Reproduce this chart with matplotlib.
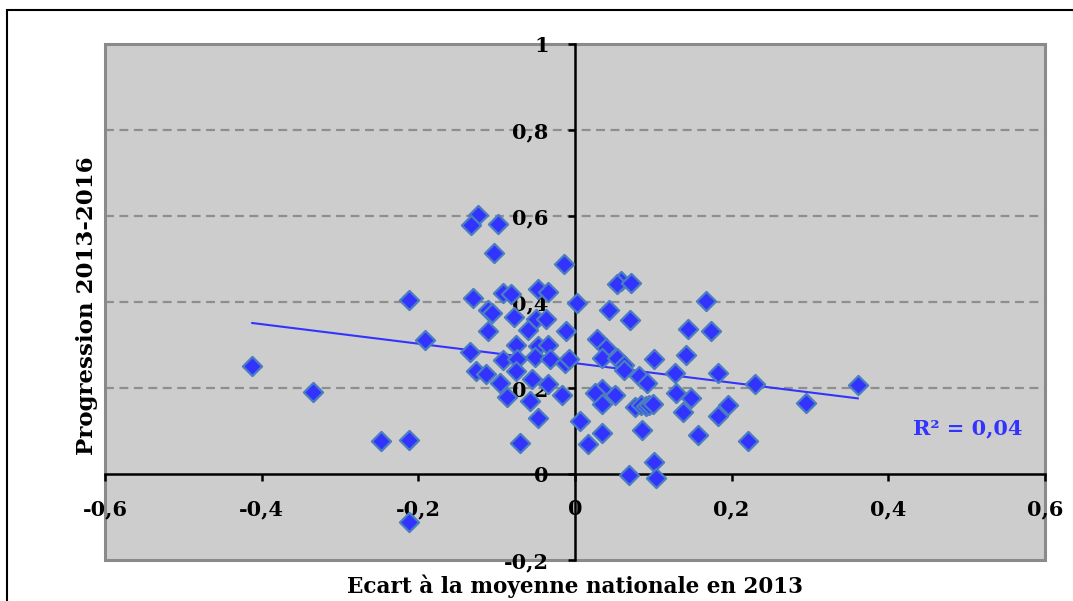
import matplotlib
matplotlib.use("Agg")
import matplotlib.pyplot as plt
from matplotlib.patches import Rectangle
import numpy as np

# Ecart à la moyenne nationale en 2013 / Progression 2013-2016
ecart_2013 = [
    -0.412, -0.335, -0.248, -0.212, -0.212, -0.212, -0.191, -0.124, -0.133, -0.098,
    -0.103, -0.014, -0.130, -0.092, -0.082, -0.047, -0.034, 0.002, -0.111, -0.106,
    -0.078, -0.050, -0.037, -0.111, -0.060, -0.012, -0.134, -0.075, -0.047, -0.035,
    -0.092, -0.074, -0.051, -0.032, -0.013, -0.008, -0.126, -0.113, -0.075, -0.055,
    -0.034, -0.096, -0.087, -0.058, -0.016, -0.047, -0.070, 0.006, 0.059, 0.053,
    0.072, 0.044, 0.070, 0.028, 0.039, 0.034, 0.053, 0.062, 0.063, 0.101,
    0.082, 0.092, 0.034, 0.026, 0.035, 0.051, 0.077, 0.084, 0.090, 0.095,
    0.099, 0.086, 0.035, 0.017, 0.101, 0.069, 0.103, 0.167, 0.144, 0.174,
    0.142, 0.128, 0.183, 0.230, 0.361, 0.295, 0.148, 0.129, 0.138, 0.195,
    0.182, 0.157, 0.221,
]
progression = [
    0.250, 0.190, 0.077, 0.080, 0.404, -0.111, 0.312, 0.602, 0.578, 0.582,
    0.513, 0.489, 0.410, 0.422, 0.418, 0.430, 0.424, 0.398, 0.381, 0.375,
    0.364, 0.360, 0.360, 0.333, 0.334, 0.333, 0.284, 0.300, 0.298, 0.300,
    0.264, 0.267, 0.271, 0.267, 0.259, 0.267, 0.240, 0.233, 0.240, 0.220,
    0.210, 0.212, 0.179, 0.170, 0.183, 0.131, 0.073, 0.123, 0.449, 0.443,
    0.444, 0.382, 0.359, 0.313, 0.292, 0.270, 0.269, 0.254, 0.243, 0.267,
    0.228, 0.211, 0.197, 0.189, 0.162, 0.184, 0.155, 0.160, 0.158, 0.160,
    0.163, 0.102, 0.096, 0.069, 0.029, -0.003, -0.010, 0.402, 0.338, 0.333,
    0.277, 0.236, 0.236, 0.209, 0.206, 0.164, 0.176, 0.189, 0.144, 0.160,
    0.136, 0.090, 0.077,
]

x_ticks = [-0.6, -0.4, -0.2, 0.0, 0.2, 0.4, 0.6]
x_tick_labels = ["-0,6", "-0,4", "-0,2", "0", "0,2", "0,4", "0,6"]
y_ticks = [-0.2, 0.0, 0.2, 0.4, 0.6, 0.8, 1.0]
y_tick_labels = ["-0,2", "0", "0,2", "0,4", "0,6", "0,8", "1"]
r2_label = "R² = 0,04"

FONT = "DejaVu Serif"
BLUE = "#3333FF"

fig = plt.figure(figsize=(10.73, 6.01), dpi=100)
fig.patch.set_facecolor("white")

# outer chart frame (open on the right and bottom edges)
fig.add_artist(Rectangle((7 / 1073, -0.1), 1.2, 1 - 10 / 601 + 0.1,
                         transform=fig.transFigure, fill=False,
                         edgecolor="black", linewidth=1.5))

ax = fig.add_axes([105 / 1073, 1 - 560 / 601, 940 / 1073, 516 / 601])
ax.set_facecolor("#CDCDCD")
ax.set_xlim(-0.6, 0.6)
ax.set_ylim(-0.2, 1.0)

for y in [0.2, 0.4, 0.6, 0.8]:
    ax.axhline(y, color="#8E8E8E", linewidth=1.6, linestyle=(0, (4, 2.5)), zorder=1)

for side in ["top", "right"]:
    ax.spines[side].set_visible(False)
ax.spines["left"].set_position(("data", 0))
ax.spines["bottom"].set_position(("data", 0))
for side in ["left", "bottom"]:
    ax.spines[side].set_linewidth(1.8)
    ax.spines[side].set_color("black")
    ax.spines[side].set_zorder(2)

ax.add_patch(Rectangle((0, 0), 1, 1, transform=ax.transAxes, fill=False,
                       edgecolor="#8A8A8A", linewidth=2.2, zorder=1, clip_on=False))

ax.set_xticks(x_ticks)
ax.set_xticklabels(x_tick_labels)
ax.set_yticks(y_ticks)
ax.set_yticklabels(y_tick_labels)
ax.tick_params(axis="both", direction="out", length=5, width=1.8, color="black")
ax.tick_params(axis="x", pad=13)
ax.tick_params(axis="y", pad=14)
for lab in ax.get_xticklabels() + ax.get_yticklabels():
    lab.set_fontfamily(FONT)
    lab.set_fontweight("bold")
    lab.set_fontsize(15)

# linear trend
xs = np.array(ecart_2013)
ys = np.array(progression)
slope, intercept = np.polyfit(xs, ys, 1)
xl = np.array([xs.min(), xs.max()])
ax.plot(xl, slope * xl + intercept, color=BLUE, linewidth=1.5, zorder=3)

ax.scatter(xs, ys, marker="D", s=95, facecolor=BLUE, edgecolor="#4A7EC0",
           linewidth=1.6, zorder=4, clip_on=False)

ax.text(0.432, 0.105, r2_label, color=BLUE, fontfamily=FONT, fontweight="bold",
        fontsize=15, ha="left", va="center", zorder=5)

fig.text(575 / 1073, 1 - 586 / 601, "Ecart à la moyenne nationale en 2013",
         ha="center", va="center", fontfamily=FONT, fontweight="bold", fontsize=15.5)
fig.text(87 / 1073, 1 - 306 / 601, "Progression 2013-2016", rotation=90,
         ha="center", va="center", fontfamily=FONT, fontweight="bold", fontsize=16.5)

fig.savefig("out.png", dpi=100)
